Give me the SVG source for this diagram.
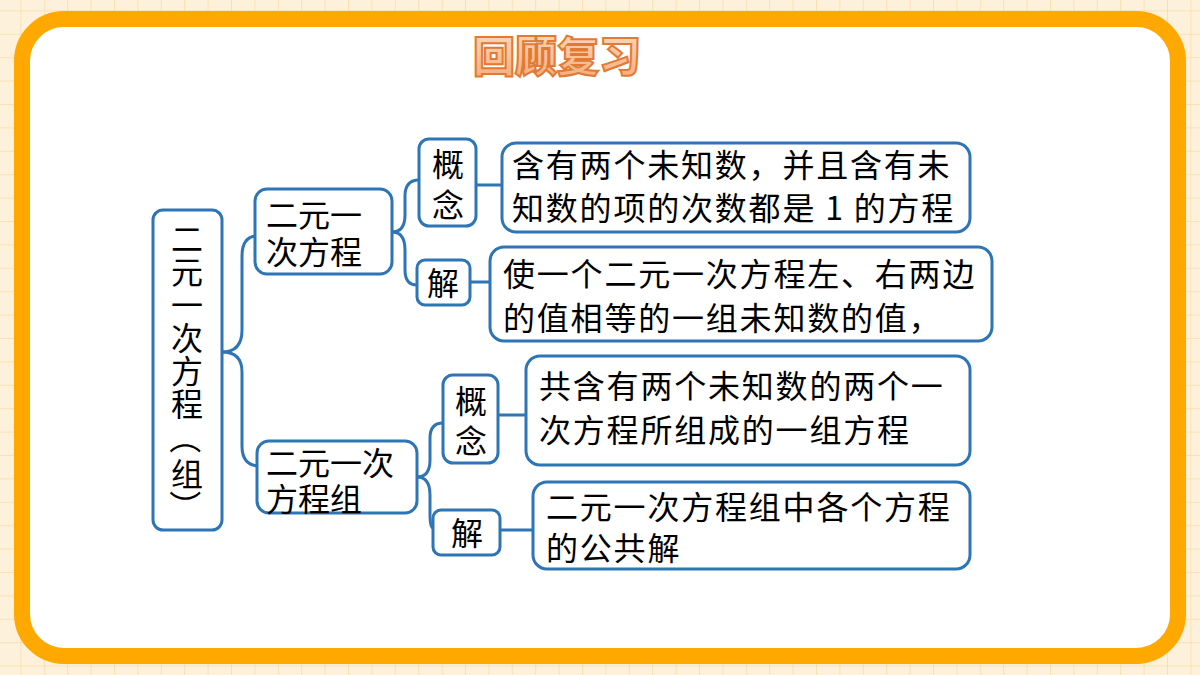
<svg xmlns="http://www.w3.org/2000/svg" width="1200" height="675" viewBox="0 0 1200 675">
<defs>
<pattern id="grid" width="23.4" height="23.4" patternUnits="userSpaceOnUse" x="-3" y="-13">
<rect width="23.4" height="23.4" fill="#fdf1dc"/>
<path d="M0 0H23.4M0 0V23.4" stroke="#f8dca6" stroke-width="1.5" fill="none"/>
</pattern>
<linearGradient id="tg" x1="0" y1="0" x2="0" y2="1"><stop offset="0" stop-color="#fde0c8"/><stop offset="1" stop-color="#f7a871"/></linearGradient>
<style>
.b{fill:#fff;stroke:#2e75b6;stroke-width:3}
.c{fill:none;stroke:#2e75b6;stroke-width:3}
.t{font-family:"Noto Sans CJK SC","Noto Sans",sans-serif;font-size:32px;fill:#000}
.s{letter-spacing:1.8px}
</style>
</defs>
<rect width="1200" height="675" fill="url(#grid)"/>
<rect x="22" y="19" width="1156" height="637" rx="42" fill="#fff" stroke="#fea800" stroke-width="16"/>
<text x="557" y="72" text-anchor="middle" font-family="Noto Sans CJK SC,sans-serif" font-size="42" font-weight="900" fill="url(#tg)" stroke="#e27a35" stroke-width="2">回顾复习</text>
<g id="connectors">
<path class="c" d="M222 352Q242 352 242 330V256Q242 236 258 236"/>
<path class="c" d="M222 352Q242 352 242 372V446Q242 466 260 466"/>
<path class="c" d="M392 232Q405 232 405 215V196Q405 180 419 180"/>
<path class="c" d="M392 232Q405 232 405 250V270Q405 285 417 285"/>
<path class="c" d="M417 477Q430 477 430 460V438Q430 423 443 423"/>
<path class="c" d="M417 477Q430 477 430 495V514Q430 528 433 528"/>
<path class="c" d="M476 185H502M470 282H490M498 415H526M500 530H533"/>
</g>
<g id="root"><rect class="b" x="153" y="210" width="69" height="320" rx="10"/>
<g class="t" font-size="33" text-anchor="middle">
<text x="187" y="251">二</text><text x="187" y="284">元</text><text x="187" y="317">一</text><text x="187" y="350">次</text><text x="187" y="383">方</text><text x="187" y="416">程</text>
<g transform="translate(187 438) rotate(90)"><text x="0" y="0" dominant-baseline="central">（</text></g>
<text x="187" y="486">组</text>
<g transform="translate(187 506) rotate(90)"><text x="0" y="0" dominant-baseline="central">）</text></g>
</g></g>
<g id="n1"><rect class="b" x="255" y="189" width="137" height="85" rx="12"/><text class="t" font-size="34" x="266" y="227">二元一</text><text class="t" font-size="34" x="266" y="264">次方程</text></g>
<g id="n2"><rect class="b" x="257" y="441" width="160" height="72" rx="12"/><text class="t" font-size="34" x="266" y="475">二元一次</text><text class="t" font-size="34" x="266" y="511">方程组</text></g>
<g id="g1"><rect class="b" x="419" y="139" width="57" height="87" rx="10"/><text class="t" x="448" y="176" text-anchor="middle">概</text><text class="t" x="448" y="217" text-anchor="middle">念</text></g>
<g id="j1"><rect class="b" x="417" y="260" width="53" height="45" rx="8"/><text class="t" x="443" y="295" text-anchor="middle">解</text></g>
<g id="g2"><rect class="b" x="443" y="375" width="55" height="88" rx="10"/><text class="t" x="471" y="413" text-anchor="middle">概</text><text class="t" x="471" y="453" text-anchor="middle">念</text></g>
<g id="j2"><rect class="b" x="433" y="510" width="67" height="45" rx="8"/><text class="t" x="467" y="545" text-anchor="middle">解</text></g>
<g id="c1"><rect class="b" x="502" y="143" width="468" height="89" rx="14"/><text class="t s" x="512" y="177">含有两个未知数，并且含有未</text><text class="t s" x="512" y="220">知数的项的次数都是 1 的方程</text></g>
<g id="c2"><rect class="b" x="490" y="247" width="502" height="94" rx="14"/><text class="t s" x="503" y="286">使一个二元一次方程左、右两边</text><text class="t s" x="503" y="330">的值相等的一组未知数的值，</text></g>
<g id="c3"><rect class="b" x="526" y="356" width="444" height="109" rx="14"/><text class="t s" x="539" y="398">共含有两个未知数的两个一</text><text class="t s" x="539" y="442">次方程所组成的一组方程</text></g>
<g id="c4"><rect class="b" x="533" y="482" width="437" height="87" rx="14"/><text class="t s" x="546" y="519">二元一次方程组中各个方程</text><text class="t s" x="546" y="560">的公共解</text></g>
</svg>
